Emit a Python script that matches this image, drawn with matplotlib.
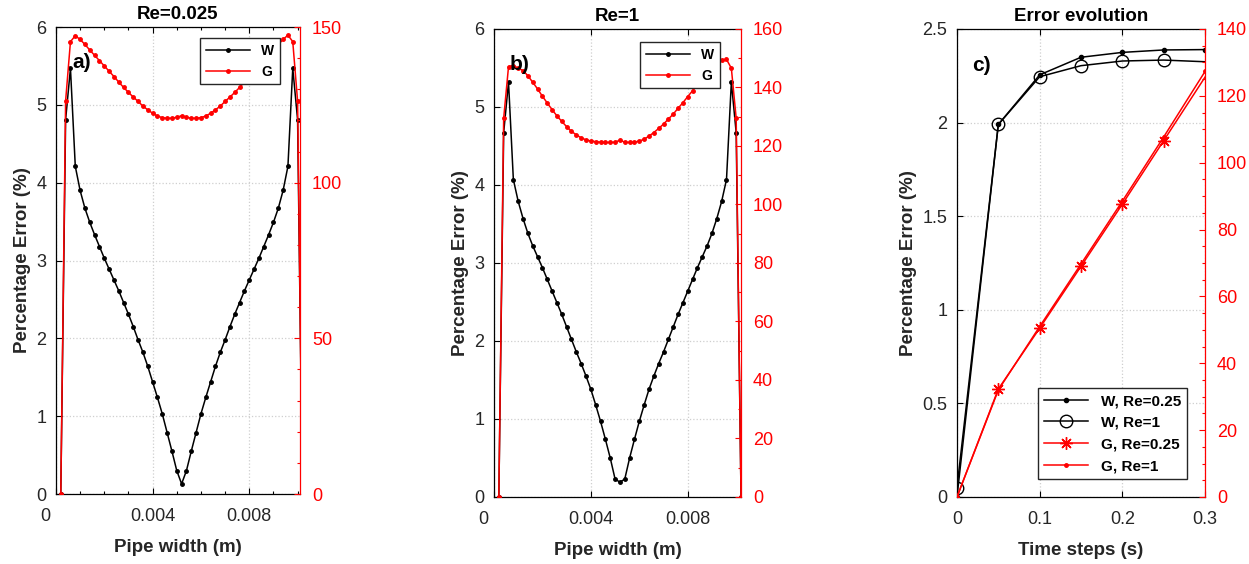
#!/usr/bin/env python

from __future__ import annotations

import matplotlib

matplotlib.use("Agg")
import matplotlib.pyplot as plt
import numpy as np
from matplotlib.ticker import MultipleLocator
from matplotlib.transforms import ScaledTranslation

plt.rcParams["font.family"] = ["Liberation Sans", "DejaVu Sans"]

# pipe cross-section nodes (m)
pipe_x = np.linspace(0.0002, 0.0102, 51)

w_re0025 = [0.0, 4.81, 5.47, 4.21, 3.90, 3.67, 3.49, 3.33, 3.18, 3.03,
            2.89, 2.75, 2.61, 2.46, 2.31, 2.15, 1.98, 1.82, 1.64, 1.44,
            1.24, 1.03, 0.79, 0.55, 0.30, 0.13, 0.30, 0.55, 0.79, 1.03,
            1.24, 1.44, 1.64, 1.82, 1.98, 2.15, 2.31, 2.46, 2.61, 2.75,
            2.89, 3.03, 3.18, 3.33, 3.49, 3.67, 3.90, 4.21, 5.47, 4.81, 0.0]
g_re0025 = [0.0, 126.3, 145.3, 147.2, 146.0, 144.4, 142.6, 140.9, 139.2, 137.5,
            135.8, 134.1, 132.3, 130.6, 129.0, 127.5, 126.1, 124.6, 123.4, 122.3,
            121.4, 120.9, 120.7, 120.7, 121.0, 121.5, 121.0, 120.7, 120.7, 120.9,
            121.4, 122.3, 123.4, 124.6, 126.1, 127.5, 129.0, 130.6, 132.3, 134.1,
            135.8, 137.5, 139.2, 140.9, 142.6, 144.4, 146.0, 147.4, 145.3, 126.2, 0.0]

w_re1 = [0.0, 4.67, 5.32, 4.07, 3.79, 3.57, 3.38, 3.22, 3.08, 2.94,
         2.79, 2.64, 2.49, 2.34, 2.18, 2.02, 1.86, 1.71, 1.55, 1.38,
         1.18, 0.97, 0.74, 0.50, 0.23, 0.19, 0.23, 0.50, 0.74, 0.97,
         1.18, 1.38, 1.55, 1.71, 1.86, 2.02, 2.18, 2.34, 2.49, 2.64,
         2.79, 2.94, 3.08, 3.22, 3.38, 3.57, 3.79, 4.07, 5.32, 4.67, 0.0]
g_re1 = [0.0, 129.5, 147.1, 147.5, 146.6, 145.8, 144.0, 141.8, 139.5, 137.0,
         134.7, 132.4, 130.3, 128.4, 126.6, 125.0, 123.8, 122.8, 122.1, 121.7,
         121.5, 121.3, 121.2, 121.2, 121.3, 122.0, 121.3, 121.2, 121.3, 121.7,
         122.3, 123.4, 124.6, 126.0, 127.5, 129.2, 130.9, 132.9, 134.8, 136.9,
         138.9, 141.2, 143.5, 145.4, 147.2, 148.6, 149.3, 149.6, 146.6, 129.5, 0.0]

time_steps = [0.0, 0.05, 0.1, 0.15, 0.2, 0.25, 0.3]
w_t_re025 = [0.0, 1.99, 2.255, 2.349, 2.375, 2.388, 2.390]
w_t_re1 = [0.05, 1.99, 2.245, 2.304, 2.329, 2.334, 2.325]
g_t_re025 = [0.0, 32.3, 50.5, 69.0, 87.6, 106.6, 125.6]
g_t_re1 = [0.0, 32.0, 51.0, 69.7, 88.5, 107.7, 127.3]

TXT = "#262626"
RED = "#ff0000"
GRID = "#cfcfcf"


def style_pair(ax, ax2, xlim, ylim, y2lim, y2major, y2minor):
    ax.set_xlim(*xlim)
    ax.set_ylim(*ylim)
    ax2.set_ylim(*y2lim)
    ax.grid(True, ls=":", color=GRID, lw=0.9)
    ax.set_axisbelow(True)
    ax.tick_params(direction="in", top=True, right=False, length=4, width=0.8,
                   labelsize=13, labelcolor=TXT, which="both")
    ax.tick_params(which="minor", length=2.5)
    ax.tick_params(axis="x", pad=10)
    ax.tick_params(axis="y", pad=7)
    ax2.tick_params(axis="y", direction="in", length=4, width=0.8, colors=RED,
                    labelsize=13, which="both", pad=8.5)
    ax2.tick_params(axis="y", which="minor", length=2.5)
    ax2.yaxis.set_major_locator(MultipleLocator(y2major))
    ax2.yaxis.set_minor_locator(MultipleLocator(y2minor))
    ax.spines["right"].set_visible(False)
    for side in ("left", "top", "bottom"):
        ax2.spines[side].set_visible(False)
        ax.spines[side].set_linewidth(0.9)
    ax2.spines["right"].set_color(RED)
    ax2.spines["right"].set_linewidth(0.9)
    ax.set_ylabel("Percentage Error (%)", fontsize=13.5, fontweight="bold", color=TXT)


def shift_zero_label(fig, ax):
    fig.canvas.draw()
    lab = ax.get_xticklabels()[0]
    lab.set_transform(lab.get_transform() + ScaledTranslation(-0.11, 0, fig.dpi_scale_trans))


def pipe_panel(fig, rect, w, g, title, tag, xmax, y2max, y2major, y2minor, leg_anchor, minor_x):
    ax = fig.add_axes(rect)
    ax2 = ax.twinx()
    (lw,) = ax.plot(pipe_x, w, "-", color="black", lw=1.1, marker=".", ms=5, label="W")
    (lg,) = ax2.plot(pipe_x, g, "-", color=RED, lw=1.1, marker=".", ms=5, label="G")
    style_pair(ax, ax2, (0, xmax), (0, 6), (0, y2max), y2major, y2minor)
    ax.set_xticks([0, 0.004, 0.008])
    ax.set_xticklabels(["0", "0.004", "0.008"])
    if minor_x:
        ax.xaxis.set_minor_locator(MultipleLocator(0.001))
    ax.set_yticks(range(7))
    ax.set_xlabel("Pipe width (m)", fontsize=13.5, fontweight="bold", color=TXT, labelpad=10)
    ax.set_title(title, fontsize=13.5, fontweight="bold")
    ax2.text(0.105, 0.925, tag, transform=ax.transAxes, fontsize=15, fontweight="bold",
             ha="center", va="center", zorder=10)
    ax2.legend([lw, lg], ["W", "G"], loc="upper right", bbox_to_anchor=leg_anchor,
               borderaxespad=0, fancybox=False, edgecolor=TXT, framealpha=1,
               prop={"weight": "bold", "size": 10}, handlelength=3.2)
    return ax


def main() -> None:
    fig = plt.figure(figsize=(12.49, 5.64), dpi=100)

    ax_a = pipe_panel(fig, [0.0448, 0.1241, 0.1954, 0.828], w_re0025, g_re0025, "Re=0.025", "a)",
                      0.0101, 150, 50, 10, (0.918, 0.976), True)
    ax_b = pipe_panel(fig, [0.3955, 0.1188, 0.1978, 0.8298], w_re1, g_re1, "Re=1", "b)",
                      0.0102, 160, 20, 10, (0.915, 0.972), False)

    ax = fig.add_axes([0.7662, 0.1188, 0.1986, 0.8298])
    ax2 = ax.twinx()
    h1, = ax.plot(time_steps, w_t_re025, "-", color="black", lw=1.1, marker=".", ms=6)
    h2, = ax.plot(time_steps, w_t_re1, "-", color="black", lw=1.1, marker="o", ms=9,
                  mfc="none", markevery=list(range(6)))
    h3, = ax2.plot(time_steps, g_t_re025, "-", color=RED, lw=1.1, marker=(8, 2, 0), ms=9,
                   markevery=list(range(1, 6)))
    h4, = ax2.plot(time_steps, g_t_re1, "-", color=RED, lw=1.1, marker=".", ms=5)
    style_pair(ax, ax2, (0, 0.3), (0, 2.5), (0, 140), 20, 5)
    ax.set_xticks([0, 0.1, 0.2, 0.3])
    ax.set_xticklabels(["0", "0.1", "0.2", "0.3"])
    ax.set_yticks([0, 0.5, 1, 1.5, 2, 2.5])
    ax.set_yticklabels(["0", "0.5", "1", "1.5", "2", "2.5"])
    ax.set_xlabel("Time steps (s)", fontsize=13.5, fontweight="bold", color=TXT, labelpad=10)
    ax.set_title("Error evolution", fontsize=13.5, fontweight="bold")
    ax2.text(0.10, 0.921, "c)", transform=ax.transAxes, fontsize=15, fontweight="bold",
             ha="center", va="center", zorder=10)
    ax2.legend([h1, h2, h3, h4], ["W, Re=0.25", "W, Re=1", "G, Re=0.25", "G, Re=1"],
               loc="lower right", bbox_to_anchor=(0.927, 0.038), borderaxespad=0,
               fancybox=False, edgecolor=TXT, framealpha=1,
               prop={"weight": "bold", "size": 11}, handlelength=2.9)

    shift_zero_label(fig, ax_a)
    shift_zero_label(fig, ax_b)

    fig.savefig("out.png", dpi=100)
    plt.close(fig)


if __name__ == "__main__":
    main()
